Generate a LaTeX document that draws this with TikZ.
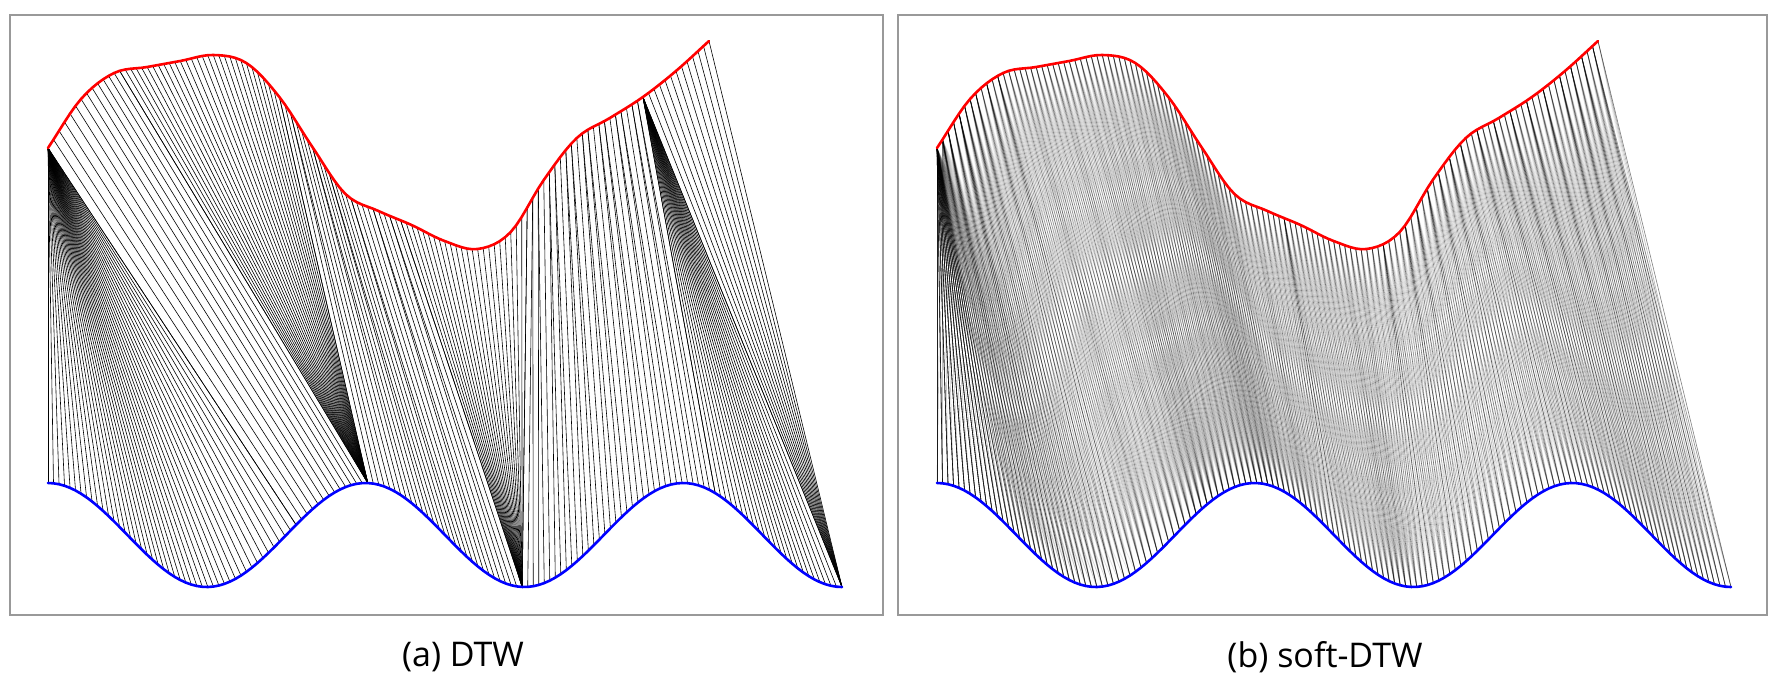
\documentclass[tikz,border=0pt]{standalone}
\usepackage{fontspec}
\setmainfont{Open Sans}

\begin{document}
\begin{tikzpicture}[x=1pt,y=-1pt,
    frame/.style={draw=gray!80,line width=1.5pt},
    redcurve/.style={draw=red,line width=2.6pt,line join=round,line cap=round},
    bluecurve/.style={draw=blue,line width=2.6pt,line join=round,line cap=round},
    hardlink/.style={black,line width=0.6pt},
    softlink/.style={black,line width=0.6pt},
    caption/.style={font=\fontsize{34}{40}\selectfont}]

  \useasboundingbox (0,0) rectangle (1777,675);

  % red series, one knot every 6 samples (padded for the spline)
  \def\redknots{{197,148,99,73,67,61,55,63,97,147,194,211,225,241,249,232,180,138,118,97,71,41,11,11}}

  \foreach \i in {0,...,120} {
    \pgfmathtruncatemacro\kk{\i/6}
    \pgfmathsetmacro\ff{(\i-6*\kk)/6}
    \pgfmathsetmacro\pA{\redknots[\kk]}
    \pgfmathsetmacro\pB{\redknots[\kk+1]}
    \pgfmathsetmacro\pC{\redknots[\kk+2]}
    \pgfmathsetmacro\pD{\redknots[\kk+3]}
    \pgfmathsetmacro\ry{0.5*(2*\pB+(\pC-\pA)*\ff+(2*\pA-5*\pB+4*\pC-\pD)*\ff*\ff+(3*\pB-\pA-3*\pC+\pD)*\ff*\ff*\ff)}
    \pgfmathsetmacro\rx{48+5.50833*\i}
    \coordinate (ra\i) at (\rx,\ry);
    \coordinate (rb\i) at (\rx+889,\ry);
  }
  % blue series
  \foreach \j in {0,...,144} {
    \pgfmathsetmacro\by{535-52*cos(6.25*\j)}
    \pgfmathsetmacro\bx{48+5.51389*\j}
    \coordinate (ba\j) at (\bx,\by);
    \coordinate (bb\j) at (\bx+889,\by);
  }

  \draw[frame] (10,15) rectangle (883,615);
  \draw[frame] (898,15) rectangle (1767,615);

  % (a) hard alignment path
  \foreach \ia/\ja/\ib/\jb in {0/0/0/45, 0/45/13/58, 13/58/42/58, 42/58/64/86,
      64/86/87/86, 87/86/108/121, 108/121/108/144, 108/144/120/144} {
    \pgfmathtruncatemacro\nn{max(abs(\ib-\ia),abs(\jb-\ja))}
    \foreach \stp in {0,...,\nn} {
      \pgfmathtruncatemacro\ii{round(\ia+(\ib-\ia)*\stp/\nn)}
      \pgfmathtruncatemacro\jj{round(\ja+(\jb-\ja)*\stp/\nn)}
      \draw[hardlink] (ra\ii) -- (ba\jj);
    }
  }

  % (b) soft alignment, spread round a smooth path
  \foreach \ia/\ja/\ib/\jb/\first in {0/0/0/12/0, 0/12/6/27/1, 6/27/12/36/1, 12/36/18/41/1,
      18/41/24/46/1, 24/46/30/49/1, 30/49/36/53/1, 36/53/42/57/1, 42/57/48/60/1,
      48/60/54/64/1, 54/64/60/69/1, 60/69/66/76/1, 66/76/72/82/1, 72/82/78/86/1,
      78/86/84/93/1, 84/93/90/102/1, 90/102/96/111/1, 96/111/102/119/1,
      102/119/108/127/1, 108/127/114/135/1, 114/135/120/144/1} {
    \pgfmathtruncatemacro\nn{max(abs(\ib-\ia),abs(\jb-\ja))}
    \foreach \stp in {\first,...,\nn} {
      \pgfmathtruncatemacro\ii{round(\ia+(\ib-\ia)*\stp/\nn)}
      \pgfmathtruncatemacro\jc{round(\ja+(\jb-\ja)*\stp/\nn)}
      \foreach \dd/\op in {-4/0.06,-3/0.1,-2/0.18,-1/0.3,0/0.5,1/0.3,2/0.18,3/0.1,4/0.06} {
        \pgfmathtruncatemacro\jj{\jc+\dd}
        \ifnum\jj<0 \else \ifnum\jj>144 \else
          \draw[softlink,opacity=\op] (rb\ii) -- (bb\jj);
        \fi\fi
      }
    }
  }
  % wide fan from the first red sample
  \foreach \j in {0,...,36} {
    \pgfmathsetmacro\op{0.5-0.012*\j}
    \draw[softlink,opacity=\op] (rb0) -- (bb\j);
    \draw[softlink,opacity=\op/2] (rb1) -- (bb\j);
  }

  \draw[redcurve] (ra0) \foreach \i in {1,...,120} { -- (ra\i) };
  \draw[bluecurve] (ba0) \foreach \j in {1,...,144} { -- (ba\j) };
  \draw[redcurve] (rb0) \foreach \i in {1,...,120} { -- (rb\i) };
  \draw[bluecurve] (bb0) \foreach \j in {1,...,144} { -- (bb\j) };

  \node[caption] (capa) at (463,657) {(a) DTW};
  \node[caption] (capb) at (1325,657) {(b) soft-DTW};
\end{tikzpicture}
\end{document}
